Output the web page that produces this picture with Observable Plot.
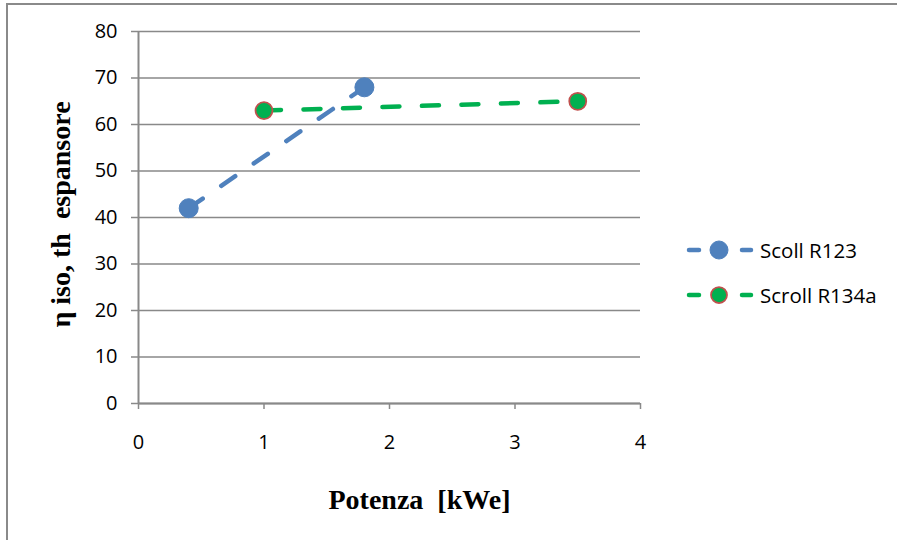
<!DOCTYPE html>
<html>
<head>
<meta charset="utf-8">
<script src="https://cdn.jsdelivr.net/npm/d3@7"></script>
<script src="https://cdn.jsdelivr.net/npm/@observablehq/plot@0.6"></script>
<style>
  html, body { margin: 0; padding: 0; background: #fff; overflow: hidden; }
  #wrap { position: relative; width: 897px; height: 540px; }
  #border { position: absolute; left: 6px; top: 3px; width: 1000px; height: 1000px;
            border-left: 2px solid #8a8a8a; border-top: 2px solid #8a8a8a; }
  #chart { position: absolute; left: 0; top: 0; }
  #legend { position: absolute; left: 680px; top: 232px; font-family: "Open Sans", sans-serif;
            font-size: 20.5px; color: #000; }
  .row { display: flex; align-items: center; height: 36px; margin-bottom: 9px; }
  .row svg { margin-right: 6px; }
</style>
</head>
<body>
<div id="wrap">
  <div id="border"></div>
  <div id="chart"></div>
  <div id="legend"></div>
</div>
<script>
// Expander isentropic efficiency vs. electric power for two scroll machines
const powerR123 = [0.4, 1.8];
const etaR123 = [42, 68];
const powerR134a = [1, 3.5];
const etaR134a = [63, 65];

const xTicks = [0, 1, 2, 3, 4];
const yTicks = [0, 10, 20, 30, 40, 50, 60, 70, 80];

const seriesNames = ["Scoll R123", "Scroll R134a"];
const lineColors = ["#4f81bd", "#00b050"];
const markerFill = ["#4f81bd", "#00b050"];
const markerStroke = ["#4f81bd", "#c0504d"];

const r123 = powerR123.map((p, i) => ({power: p, eta: etaR123[i]}));
const r134a = powerR134a.map((p, i) => ({power: p, eta: etaR134a[i]}));

const gray = "#898989";
const dash = "17,22.5";

const chart = Plot.plot({
  width: 897,
  height: 540,
  marginLeft: 138,
  marginRight: 257,
  marginTop: 31,
  marginBottom: 137,
  style: {fontFamily: "'Open Sans', sans-serif", fontSize: "20px", color: "#000", background: "transparent", overflow: "visible"},
  x: {domain: [0, 4]},
  y: {domain: [0, 80]},
  marks: [
    Plot.gridY(yTicks, {stroke: gray, strokeOpacity: 1, strokeWidth: 1.5}),
    Plot.axisY(yTicks, {tickSize: 7, tickPadding: 14, stroke: gray, strokeWidth: 1.5, label: null, tickFormat: d => d}),
    Plot.axisX(xTicks, {tickSize: 6, tickPadding: 25, stroke: gray, strokeWidth: 1.5, label: null, tickFormat: d => d}),
    Plot.ruleX([0], {stroke: gray, strokeWidth: 2}),
    Plot.ruleY([0], {stroke: gray, strokeWidth: 2}),
    Plot.line(r123, {x: "power", y: "eta", stroke: lineColors[0], strokeWidth: 4.5, strokeDasharray: dash, strokeLinecap: "round"}),
    Plot.line(r134a, {x: "power", y: "eta", stroke: lineColors[1], strokeWidth: 4.5, strokeDasharray: dash, strokeLinecap: "round"}),
    Plot.dot(r123, {x: "power", y: "eta", r: 9.5, fill: markerFill[0], stroke: markerStroke[0], strokeWidth: 1}),
    Plot.dot(r134a, {x: "power", y: "eta", r: 8.5, fill: markerFill[1], stroke: markerStroke[1], strokeWidth: 1.75}),
    Plot.text(["Potenza\u00a0 [kWe]"], {frameAnchor: "bottom", dx: 30, dy: 97, lineAnchor: "middle",
      fontFamily: "'Liberation Serif', 'Times New Roman', serif", fontSize: 28, fontWeight: "bold", fill: "#000"}),
    Plot.text(["η iso, th\u00a0 espansore"], {frameAnchor: "left", dx: -77, dy: -3, rotate: -90,
      textAnchor: "middle", lineAnchor: "middle",
      fontFamily: "'Liberation Serif', 'Times New Roman', serif", fontSize: 28, fontWeight: "bold", fill: "#000"})
  ]
});
document.getElementById("chart").appendChild(chart);

// Legend: dash – marker – dash, then series name
const legend = document.getElementById("legend");
seriesNames.forEach((name, i) => {
  const row = document.createElement("div");
  row.className = "row";
  row.innerHTML =
    `<svg width="74" height="36">
       <line x1="9" y1="18" x2="19" y2="18" stroke="${lineColors[i]}" stroke-width="4.5" stroke-linecap="round"/>
       <line x1="62" y1="18" x2="71" y2="18" stroke="${lineColors[i]}" stroke-width="4.5" stroke-linecap="round"/>
       <circle cx="39" cy="18" r="${i === 0 ? 9 : 8}" fill="${markerFill[i]}" stroke="${markerStroke[i]}" stroke-width="${i === 0 ? 1 : 1.75}"/>
     </svg><span>${name}</span>`;
  legend.appendChild(row);
});
</script>
</body>
</html>
